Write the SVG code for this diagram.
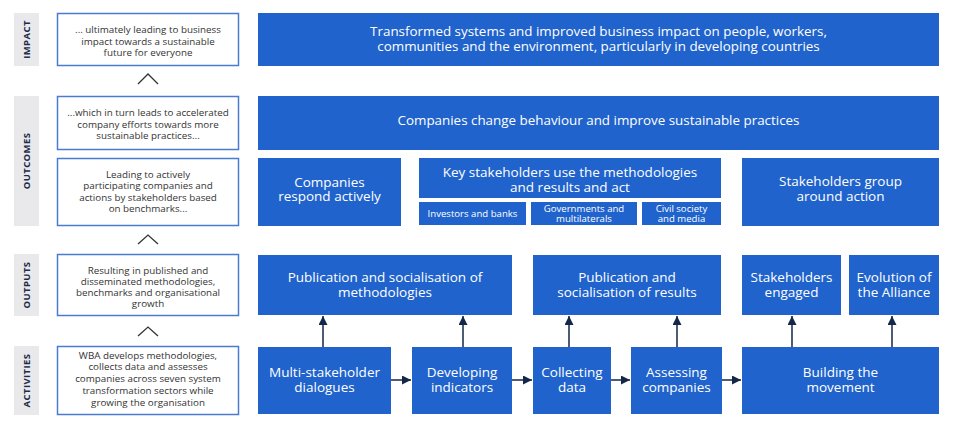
<svg xmlns="http://www.w3.org/2000/svg" width="960" height="429" viewBox="0 0 960 429">
<style>
.bg{fill:#ffffff}
.lab{fill:#e9e9eb}
.labt{font-family:"Open Sans","Liberation Sans",sans-serif;font-weight:700;font-size:9.5px;fill:#1c2b4a;text-anchor:middle;letter-spacing:0.4px}
.lbox{fill:#ffffff;stroke:#4a7bd0;stroke-width:1.5}
.lt{font-family:"Open Sans","Liberation Sans",sans-serif;font-size:9.8px;fill:#333333;text-anchor:middle}
.b{fill:#2063cc}
.t{font-family:"Open Sans","Liberation Sans",sans-serif;font-size:13.5px;fill:#ffffff;text-anchor:middle}
.tl{font-family:"Open Sans","Liberation Sans",sans-serif;font-size:13.4px;fill:#ffffff;text-anchor:middle}
.ts{font-family:"Open Sans","Liberation Sans",sans-serif;font-size:9.6px;fill:#ffffff;text-anchor:middle}
.chev{fill:none;stroke:#333333;stroke-width:1.3}
.ar{fill:none;stroke:#3a4a68;stroke-width:1.8}
</style>
<defs>
<marker id="ah" viewBox="0 0 10 10" refX="10" refY="5" markerWidth="5" markerHeight="5" markerUnits="strokeWidth" orient="auto">
<path d="M0,0 L10,5 L0,10 z" fill="#14264a"/>
</marker>
</defs>
<rect class="bg" x="0" y="0" width="960" height="429"/>

<g id="labels">
<rect class="lab" x="14" y="13" width="25" height="53"/>
<text class="labt" transform="translate(30,39.5) rotate(-90)">IMPACT</text>
<rect class="lab" x="14" y="96" width="25" height="130"/>
<text class="labt" transform="translate(30,161) rotate(-90)">OUTCOMES</text>
<rect class="lab" x="14" y="254" width="25" height="62"/>
<text class="labt" transform="translate(30,285) rotate(-90)">OUTPUTS</text>
<rect class="lab" x="14" y="346" width="25" height="69"/>
<text class="labt" transform="translate(30,380.5) rotate(-90)">ACTIVITIES</text>
</g>

<g id="left-impact">
<rect class="lbox" x="57.5" y="13.5" width="181" height="52"/>
<text class="lt" x="148" y="32.5">... ultimately leading to business</text>
<text class="lt" x="148" y="44.5">impact towards a sustainable</text>
<text class="lt" x="148" y="56">future for everyone</text>
</g>
<g id="left-outcome2">
<rect class="lbox" x="57.5" y="96.5" width="181" height="53"/>
<text class="lt" x="148" y="115.5">...which in turn leads to accelerated</text>
<text class="lt" x="148" y="127.5">company efforts towards more</text>
<text class="lt" x="148" y="139">sustainable practices...</text>
</g>
<g id="left-outcome1">
<rect class="lbox" x="57.5" y="158.5" width="181" height="67"/>
<text class="lt" x="148" y="177.5">Leading to actively</text>
<text class="lt" x="148" y="189">participating companies and</text>
<text class="lt" x="148" y="200.5">actions by stakeholders based</text>
<text class="lt" x="148" y="212">on benchmarks...</text>
</g>
<g id="left-outputs">
<rect class="lbox" x="57.5" y="254.5" width="181" height="61"/>
<text class="lt" x="148" y="273.5">Resulting in published and</text>
<text class="lt" x="148" y="284.5">disseminated methodologies,</text>
<text class="lt" x="148" y="295.5">benchmarks and organisational</text>
<text class="lt" x="148" y="306.5">growth</text>
</g>
<g id="left-activities">
<rect class="lbox" x="57.5" y="346.5" width="181" height="68"/>
<text class="lt" x="148" y="358.5">WBA develops methodologies,</text>
<text class="lt" x="148" y="370.3">collects data and assesses</text>
<text class="lt" x="148" y="382.1">companies across seven system</text>
<text class="lt" x="148" y="393.9">transformation sectors while</text>
<text class="lt" x="148" y="405.7">growing the organisation</text>
</g>
<g id="chevrons">
<polyline class="chev" points="138,84 148,74 158,84"/>
<polyline class="chev" points="138,244 148,235 158,244"/>
<polyline class="chev" points="138,336 148,327 158,336"/>
</g>

<g id="impact">
<rect class="b" x="258" y="13" width="681" height="53"/>
<text class="tl" x="598.5" y="36">Transformed systems and improved business impact on people, workers,</text>
<text class="tl" x="598.5" y="51">communities and the environment, particularly in developing countries</text>
</g>
<g id="companies-change">
<rect class="b" x="258" y="96" width="681" height="54"/>
<text class="tl" x="598.5" y="124.5">Companies change behaviour and improve sustainable practices</text>
</g>
<g id="companies-respond">
<rect class="b" x="258" y="158" width="143" height="68"/>
<text class="t" x="329.5" y="186.5">Companies</text>
<text class="t" x="329.5" y="201">respond actively</text>
</g>
<g id="key-stakeholders">
<rect class="b" x="419" y="158" width="302" height="40"/>
<text class="t" x="570" y="176.5">Key stakeholders use the methodologies</text>
<text class="t" x="570" y="191.5">and results and act</text>
</g>
<g id="investors">
<rect class="b" x="419" y="202" width="107" height="23"/>
<text class="ts" x="472.5" y="216.5">Investors and banks</text>
</g>
<g id="governments">
<rect class="b" x="531" y="202" width="106" height="23"/>
<text class="ts" x="584" y="212">Governments and</text>
<text class="ts" x="584" y="221.5">multilaterals</text>
</g>
<g id="civil-society">
<rect class="b" x="642" y="202" width="79" height="23"/>
<text class="ts" x="681.5" y="212">Civil society</text>
<text class="ts" x="681.5" y="221.5">and media</text>
</g>
<g id="stakeholders-group">
<rect class="b" x="742" y="158" width="197" height="68"/>
<text class="t" x="840.5" y="186">Stakeholders group</text>
<text class="t" x="840.5" y="201">around action</text>
</g>

<g id="pub-methodologies">
<rect class="b" x="258" y="255" width="254" height="60"/>
<text class="t" x="385" y="281.5">Publication and socialisation of</text>
<text class="t" x="385" y="296.5">methodologies</text>
</g>
<g id="pub-results">
<rect class="b" x="533" y="255" width="188" height="60"/>
<text class="t" x="627" y="281.5">Publication and</text>
<text class="t" x="627" y="296.5">socialisation of results</text>
</g>
<g id="stakeholders-engaged">
<rect class="b" x="742" y="255" width="99" height="60"/>
<text class="t" x="791.5" y="281.5">Stakeholders</text>
<text class="t" x="791.5" y="296.5">engaged</text>
</g>
<g id="evolution">
<rect class="b" x="849" y="255" width="90" height="60"/>
<text class="t" x="894" y="281.5">Evolution of</text>
<text class="t" x="894" y="296.5">the Alliance</text>
</g>

<g id="multi-stakeholder">
<rect class="b" x="258" y="347" width="133" height="67"/>
<text class="t" x="324.5" y="376.5">Multi-stakeholder</text>
<text class="t" x="324.5" y="391.5">dialogues</text>
</g>
<g id="developing">
<rect class="b" x="412" y="347" width="100" height="67"/>
<text class="t" x="462" y="376.5">Developing</text>
<text class="t" x="462" y="391.5">indicators</text>
</g>
<g id="collecting">
<rect class="b" x="533" y="347" width="78" height="67"/>
<text class="t" x="572" y="376.5">Collecting</text>
<text class="t" x="572" y="391.5">data</text>
</g>
<g id="assessing">
<rect class="b" x="631" y="347" width="91" height="67"/>
<text class="t" x="676.5" y="376.5">Assessing</text>
<text class="t" x="676.5" y="391.5">companies</text>
</g>
<g id="building">
<rect class="b" x="742" y="347" width="197" height="67"/>
<text class="t" x="840.5" y="376.5">Building the</text>
<text class="t" x="840.5" y="391.5">movement</text>
</g>

<g id="connectors">
<line class="ar" x1="391" y1="380" x2="411" y2="380" marker-end="url(#ah)"/>
<line class="ar" x1="512" y1="380" x2="532" y2="380" marker-end="url(#ah)"/>
<line class="ar" x1="611" y1="380" x2="630" y2="380" marker-end="url(#ah)"/>
<line class="ar" x1="722" y1="380" x2="741" y2="380" marker-end="url(#ah)"/>
<line class="ar" x1="323" y1="347" x2="323" y2="316" marker-end="url(#ah)"/>
<line class="ar" x1="463" y1="347" x2="463" y2="316" marker-end="url(#ah)"/>
<line class="ar" x1="569" y1="347" x2="569" y2="316" marker-end="url(#ah)"/>
<line class="ar" x1="677" y1="347" x2="677" y2="316" marker-end="url(#ah)"/>
<line class="ar" x1="792" y1="347" x2="792" y2="316" marker-end="url(#ah)"/>
<line class="ar" x1="892" y1="347" x2="892" y2="316" marker-end="url(#ah)"/>
</g>
</svg>
